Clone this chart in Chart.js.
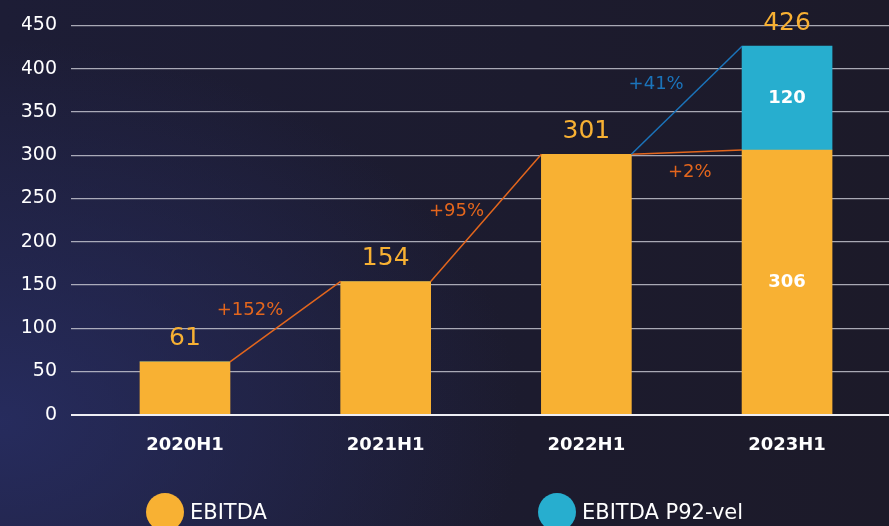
<!DOCTYPE html>
<html>
<head>
<meta charset="utf-8">
<script src="https://cdn.jsdelivr.net/npm/chart.js@4.4.1/dist/chart.umd.min.js"></script>
<style>
  html, body { margin: 0; padding: 0; }
  body {
    width: 889px;
    height: 526px;
    overflow: hidden;
    position: relative;
    font-family: "DejaVu Sans", sans-serif;
    background:
      radial-gradient(ellipse 520px 380px at 0% 80%, rgba(40, 46, 100, 0.85), rgba(40, 46, 100, 0) 100%),
      linear-gradient(to right, #1d1d36 0%, #1c1b2e 60%, #1c1a29 100%);
  }
  #wrap { position: absolute; left: 0; top: 0; width: 889px; height: 526px; }
  .legend-item { position: absolute; top: 493px; height: 38px; display: flex; align-items: center; }
  .legend-dot { width: 38px; height: 38px; border-radius: 50%; margin-right: 6px; }
  .legend-text { color: #ffffff; font-size: 21px; line-height: 38px; }
</style>
</head>
<body>
<div id="wrap"><canvas id="chart" width="889" height="526"></canvas></div>
<div id="legend"></div>
<script>
// ===== DATA =====

const categories = ["2020H1", "2021H1", "2022H1", "2023H1"];
const ebitda = [61, 154, 301, 306];
const ebitdaP92 = [0, 0, 0, 120];
const yTicks = [0, 50, 100, 150, 200, 250, 300, 350, 400, 450];
const growthLabels = ["+152%", "+95%", "+2%"];
const p92GrowthLabel = "+41%";

const seriesNames = ["EBITDA", "EBITDA P92-vel"];
const seriesColors = ["#f8b133", "#27aecf"];

const ORANGE_LINE = "#e3661d";
const BLUE_LINE = "#1b74bb";
const FONT = "DejaVu Sans";

// ===== LABELS + GROWTH LINES =====

const annotations = {
    id: "annotations",
    afterDatasetsDraw(chart) {
        const ctx = chart.ctx;
        const base = chart.getDatasetMeta(0).data;
        const top = chart.getDatasetMeta(1).data;

        ctx.save();

        // value labels
        ctx.textAlign = "center";
        ctx.textBaseline = "middle";
        categories.forEach((c, i) => {
            const b = base[i];
            const hasTop = ebitdaP92[i] > 0;
            const total = ebitda[i] + ebitdaP92[i];
            const topY = hasTop ? top[i].y : b.y;

            ctx.fillStyle = seriesColors[0];
            ctx.font = "25px " + FONT;
            ctx.fillText(total, b.x, topY - 23);

            if (hasTop) {
                ctx.fillStyle = "#ffffff";
                ctx.font = "bold 18px " + FONT;
                ctx.fillText(ebitda[i], b.x, (b.y + b.base) / 2);
                ctx.fillText(ebitdaP92[i], top[i].x, (top[i].y + top[i].base) / 2);
            }
        });

        // growth lines between bar tops
        ctx.lineWidth = 1.5;
        const drawLine = (x1, y1, x2, y2, color) => {
            ctx.strokeStyle = color;
            ctx.beginPath();
            ctx.moveTo(x1, y1);
            ctx.lineTo(x2, y2);
            ctx.stroke();
        };

        const labelOffsets = [[-2, -11, "right"], [-2, -7, "right"], [3, 20, "center"]];
        ctx.font = "18px " + FONT;
        for (let i = 0; i < categories.length - 1; i++) {
            const a = base[i], n = base[i + 1];
            const x1 = a.x + a.width / 2, x2 = n.x - n.width / 2;
            drawLine(x1, a.y, x2, n.y, ORANGE_LINE);
            const [dx, dy, align] = labelOffsets[i];
            ctx.fillStyle = ORANGE_LINE;
            ctx.textAlign = align;
            ctx.fillText(growthLabels[i], (x1 + x2) / 2 + dx, (a.y + n.y) / 2 + dy);
        }

        // P92 growth line
        const a = base[2], n = top[3];
        const x1 = a.x + a.width / 2, x2 = n.x - n.width / 2;
        drawLine(x1, a.y, x2, n.y, BLUE_LINE);
        ctx.fillStyle = BLUE_LINE;
        ctx.textAlign = "right";
        ctx.fillText(p92GrowthLabel, (x1 + x2) / 2 - 3, (a.y + n.y) / 2 - 16);

        ctx.restore();
    }
};

// ===== CHART =====

const chart = new Chart(document.getElementById("chart"), {
    type: "bar",
    data: {
        datasets: [
            {
                label: seriesNames[0],
                data: ebitda.map((v, i) => ({ x: i, y: v })),
                backgroundColor: seriesColors[0],
                barThickness: 90
            },
            {
                label: seriesNames[1],
                data: ebitdaP92.map((v, i) => ({ x: i, y: v })),
                backgroundColor: seriesColors[1],
                barThickness: 90
            }
        ]
    },
    options: {
        responsive: false,
        animation: false,
        layout: { padding: { left: 22, top: 24, right: 0, bottom: 0 } },
        plugins: {
            legend: { display: false },
            tooltip: { enabled: false }
        },
        scales: {
            x: {
                type: "linear",
                stacked: true,
                offset: false,
                min: -0.568,
                max: 3.508,
                afterBuildTicks: (scale) => {
                    scale.ticks = categories.map((c, i) => ({ value: i }));
                },
                afterFit: (scale) => { scale.height = 111.3; },
                ticks: {
                    color: "#ffffff",
                    font: { family: FONT, size: 18, weight: "bold" },
                    padding: 12,
                    maxRotation: 0,
                    callback: (v) => categories[v]
                },
                grid: { display: false },
                border: { display: false }
            },
            y: {
                stacked: true,
                min: 0,
                max: 450,
                afterBuildTicks: (scale) => {
                    scale.ticks = yTicks.map(v => ({ value: v }));
                },
                afterFit: (scale) => { scale.width = 49; },
                ticks: {
                    color: "#ffffff",
                    font: { family: FONT, size: 19 },
                    padding: 14
                },
                grid: {
                    drawTicks: false,
                    color: (c) => c.tick.value === 0 ? "#eeeef4" : "rgba(205, 205, 215, 0.8)",
                    lineWidth: (c) => c.tick.value === 0 ? 2 : 1.3
                },
                border: { display: false }
            }
        }
    },
    plugins: [annotations]
});

// ===== LEGEND =====

const legend = document.getElementById("legend");
const legendLeft = [146, 538];
seriesNames.forEach((name, i) => {
    const item = document.createElement("div");
    item.className = "legend-item";
    item.style.left = legendLeft[i] + "px";
    item.innerHTML = '<span class="legend-dot" style="background:' + seriesColors[i] + '"></span>' +
        '<span class="legend-text">' + name + '</span>';
    legend.appendChild(item);
});
</script>
</body>
</html>
